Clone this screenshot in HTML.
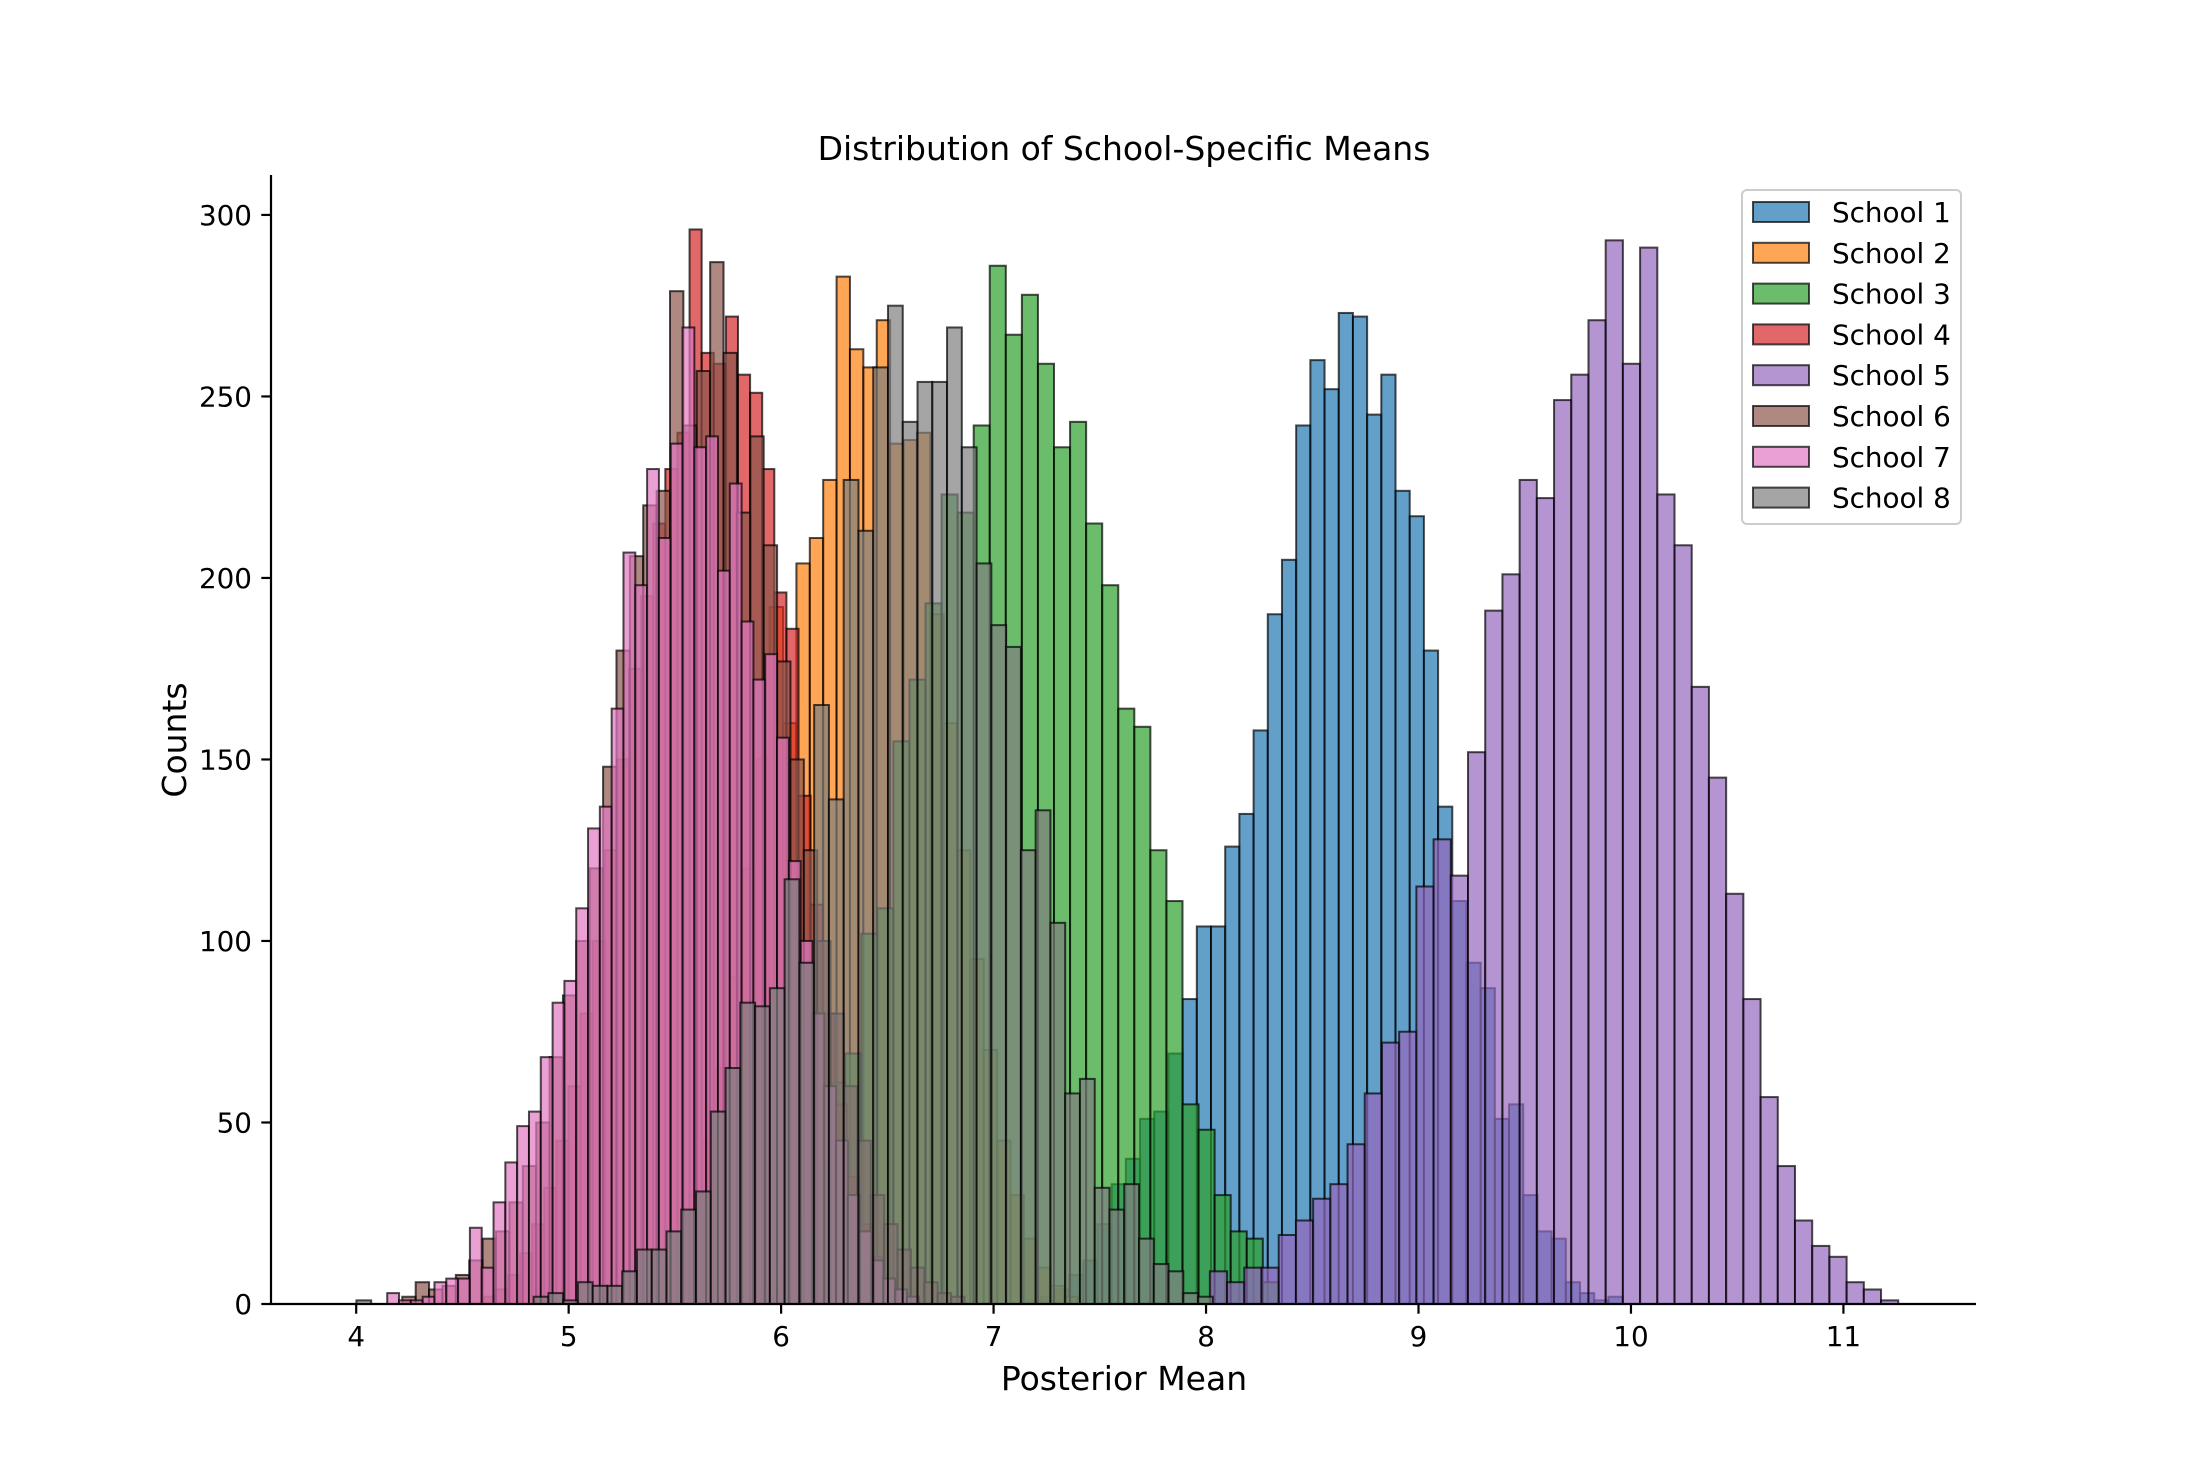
<!DOCTYPE html>
<html><head><meta charset="utf-8"><style>
html,body{margin:0;padding:0;background:#fff;}
svg{display:block;font-family:"DejaVu Sans","Liberation Sans",sans-serif;}
</style></head><body>
<svg id="chart" width="2194" height="1466" viewBox="0 0 2194 1466" xmlns="http://www.w3.org/2000/svg">
<rect width="2194" height="1466" fill="#fff"/>
<text x="1124" y="160" font-size="33" text-anchor="middle" fill="#000">Distribution of School-Specific Means</text>
<g id="bars"></g>
<g id="axes"></g>
<text x="1124" y="1390" font-size="33" text-anchor="middle" fill="#000">Posterior Mean</text>
<text transform="translate(186,740) rotate(-90)" font-size="33" text-anchor="middle" fill="#000">Counts</text>
<g id="legend"></g>
</svg>
<script>
const schoolNames = ["School 1","School 2","School 3","School 4","School 5","School 6","School 7","School 8"];
const schoolColors = ["#1f77b4","#ff7f0e","#2ca02c","#d62728","#9467bd","#8c564b","#e377c2","#7f7f7f"];
const binStarts = [7.155, 5.316, 5.848, 4.60, 8.018, 4.217, 4.146, 4.001];
const binWidths = [0.0668, 0.063, 0.0756, 0.057, 0.081, 0.063, 0.0556, 0.0695];
const school1Counts = [1,2,4,8,12,22,33,40,51,53,69,84,104,104,126,135,158,190,205,242,260,252,273,272,245,256,224,217,180,137,111,94,87,51,55,30,20,18,6,3,1,2];
const school2Counts = [2,5,10,18,30,45,65,90,120,150,192,160,204,211,227,283,263,258,271,237,238,240,190,160,125,95,70,45,30,18,10,5,2];
const school3Counts = [1,3,9,22,40,61,69,102,109,155,172,193,223,218,242,286,267,278,259,236,243,215,198,164,159,125,111,55,48,30,20,18,6];
const school4Counts = [2,4,8,14,22,32,45,60,80,100,125,150,175,195,215,230,240,296,262,259,272,256,251,230,196,186,140,110,80,55,35,22,13,7,3,1];
const school5Counts = [9,6,10,10,19,23,29,33,44,58,72,75,115,128,118,152,191,201,227,222,249,256,271,293,259,291,223,209,170,145,113,84,57,38,23,16,13,6,4,1];
const school6Counts = [2,6,4,5,8,12,18,20,28,38,50,68,85,100,120,148,180,206,220,224,279,242,257,287,262,218,239,209,177,150,125,100,80,60,45,30,22,15,10,6,3,2];
const school7Counts = [3,1,1,2,6,7,7,21,10,28,39,49,53,68,83,89,109,131,137,164,207,198,230,211,237,269,236,239,202,226,188,172,179,156,122,100,80,60,45,30,20,12,7,4,2];
const school8Counts = [1,0,0,0,0,0,0,0,0,0,0,0,2,3,1,6,5,5,9,15,15,20,26,31,53,65,83,82,87,117,94,165,139,227,213,258,275,243,254,254,269,236,204,187,181,125,136,105,58,62,32,26,33,18,11,9,3,2];
const allCounts = [school1Counts,school2Counts,school3Counts,school4Counts,school5Counts,school6Counts,school7Counts,school8Counts];
const xTicks = [4,5,6,7,8,9,10,11];
const yTicks = [0,50,100,150,200,250,300];

const NS = "http://www.w3.org/2000/svg";
const AX = {left:271, right:1976, top:175, bottom:1304};
const XMIN = 3.599, XMAX = 11.624, YMAX = 311;
function xs(v){ return AX.left + (v - XMIN) / (XMAX - XMIN) * (AX.right - AX.left); }
function ys(v){ return AX.bottom - v / YMAX * (AX.bottom - AX.top); }
function mk(tag, attrs, parent){ const e = document.createElementNS(NS, tag); for (const k in attrs) e.setAttribute(k, attrs[k]); parent.appendChild(e); return e; }

const barsG = document.getElementById("bars");
allCounts.forEach((counts, s) => {
  const g = mk("g", {}, barsG);
  
  
  counts.forEach((c, i) => {
    if (c <= 0) return;
    const x0 = binStarts[s] + i * binWidths[s];
    const x1 = x0 + binWidths[s];
    const r = mk("rect", {x: xs(x0), y: ys(c), width: xs(x1) - xs(x0), height: ys(0) - ys(c),
      fill: schoolColors[s], "fill-opacity": 0.7, stroke: "#000", "stroke-opacity": 0.7, "stroke-width": 2}, g);
    
    
  });
});

const axG = document.getElementById("axes");
const ls = mk("line", {x1: AX.left, y1: AX.top, x2: AX.left, y2: AX.bottom + 1, stroke: "#000", "stroke-width": 2.2}, axG);


const bs = mk("line", {x1: AX.left - 1, y1: AX.bottom, x2: AX.right, y2: AX.bottom, stroke: "#000", "stroke-width": 2.2}, axG);


xTicks.forEach(t => {
  const x = xs(t);
  const tl = mk("line", {x1: x, y1: AX.bottom, x2: x, y2: AX.bottom + 9.7, stroke: "#000", "stroke-width": 2.2}, axG);
  
  
  const tx = mk("text", {x: x, y: AX.bottom + 42, "font-size": 27.8, "text-anchor": "middle", fill: "#000"}, axG);
  tx.textContent = String(t);
  
  
});
yTicks.forEach(t => {
  const y = ys(t);
  const tl = mk("line", {x1: AX.left - 9.7, y1: y, x2: AX.left, y2: y, stroke: "#000", "stroke-width": 2.2}, axG);
  
  
  const tx = mk("text", {x: AX.left - 19, y: y + 10, "font-size": 27.8, "text-anchor": "end", fill: "#000"}, axG);
  tx.textContent = String(t);
  
  
});

const lg = document.getElementById("legend");
const frame = mk("rect", {x: 1742, y: 190, width: 219, height: 334, rx: 5, fill: "#fff", "fill-opacity": 0.8, stroke: "#ccc", "stroke-width": 2}, lg);


schoolNames.forEach((n, i) => {
  const y = 202 + i * 40.8;
  const sw = mk("rect", {x: 1753, y: y, width: 56, height: 20, fill: schoolColors[i], "fill-opacity": 0.7, stroke: "#000", "stroke-opacity": 0.7, "stroke-width": 2}, lg);
  
  
  const tx = mk("text", {x: 1832, y: y + 20, "font-size": 27.8, fill: "#000"}, lg);
  tx.textContent = n;
  
  
});
</script>
</body></html>
